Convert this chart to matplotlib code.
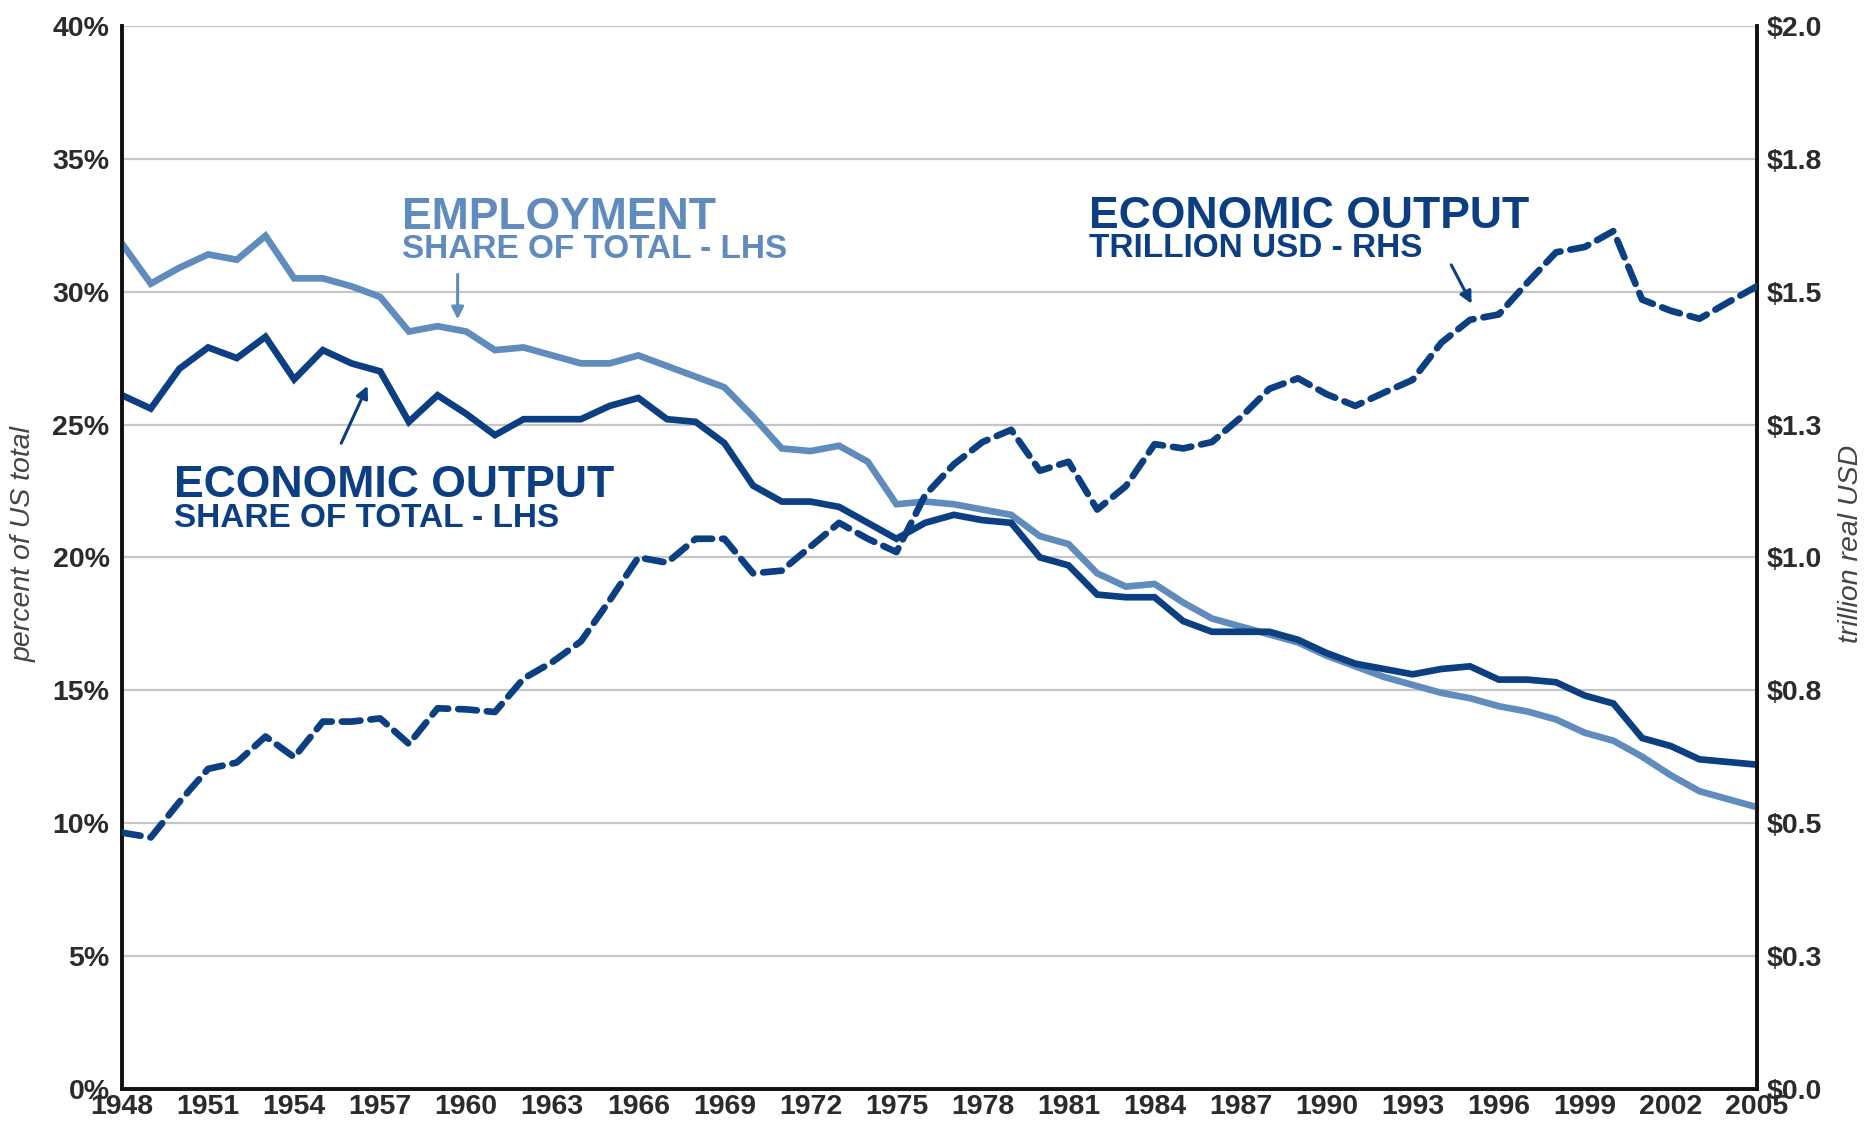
import numpy as np
import matplotlib
matplotlib.use("Agg")
import matplotlib.pyplot as plt

plt.rcParams['font.family'] = ['Liberation Sans', 'DejaVu Sans']

# data
years = list(range(1948, 2006))

employment_share = [
    31.8, 30.3, 30.9, 31.4, 31.2, 32.1, 30.5, 30.5, 30.2, 29.8,
    28.5, 28.7, 28.5, 27.8, 27.9, 27.6, 27.3, 27.3, 27.6, 27.2,
    26.8, 26.4, 25.3, 24.1, 24.0, 24.2, 23.6, 22.0, 22.1, 22.0,
    21.8, 21.6, 20.8, 20.5, 19.4, 18.9, 19.0, 18.3, 17.7, 17.4,
    17.1, 16.8, 16.3, 15.9, 15.5, 15.2, 14.9, 14.7, 14.4, 14.2,
    13.9, 13.4, 13.1, 12.5, 11.8, 11.2, 10.9, 10.6,
]

output_share = [
    26.1, 25.6, 27.1, 27.9, 27.5, 28.3, 26.7, 27.8, 27.3, 27.0,
    25.1, 26.1, 25.4, 24.6, 25.2, 25.2, 25.2, 25.7, 26.0, 25.2,
    25.1, 24.3, 22.7, 22.1, 22.1, 21.9, 21.3, 20.7, 21.3, 21.6,
    21.4, 21.3, 20.0, 19.7, 18.6, 18.5, 18.5, 17.6, 17.2, 17.2,
    17.2, 16.9, 16.4, 16.0, 15.8, 15.6, 15.8, 15.9, 15.4, 15.4,
    15.3, 14.8, 14.5, 13.2, 12.9, 12.4, 12.3, 12.2,
]

output_usd = [
    0.482, 0.473, 0.540, 0.602, 0.614, 0.663, 0.624, 0.691, 0.691, 0.697,
    0.649, 0.716, 0.714, 0.709, 0.772, 0.803, 0.842, 0.919, 1.000, 0.990,
    1.035, 1.035, 0.970, 0.975, 1.020, 1.065, 1.035, 1.010, 1.117, 1.175,
    1.217, 1.240, 1.163, 1.180, 1.090, 1.134, 1.213, 1.205, 1.217, 1.263,
    1.317, 1.337, 1.307, 1.285, 1.310, 1.334, 1.404, 1.447, 1.457, 1.517,
    1.574, 1.584, 1.614, 1.485, 1.464, 1.449, 1.480, 1.510,
]

x_ticks = list(range(1948, 2006, 3))
left_ticks = [0, 5, 10, 15, 20, 25, 30, 35, 40]
left_labels = ['0%', '5%', '10%', '15%', '20%', '25%', '30%', '35%', '40%']
right_ticks = [0, 0.25, 0.5, 0.75, 1.0, 1.25, 1.5, 1.75, 2.0]
right_labels = ['$0.0', '$0.3', '$0.5', '$0.8', '$1.0', '$1.3', '$1.5', '$1.8', '$2.0']

dark = '#0c3f82'
light = '#5f8bbd'
tick_col = '#2b2b2b'

fig = plt.figure(figsize=(18.64, 11.26), dpi=100)
ax = fig.add_axes([0.0655, 0.033, 0.877, 0.944])
ax2 = ax.twinx()

ax.plot(years, employment_share, color=light, lw=4.8, solid_joinstyle='miter', zorder=3)
ax.plot(years, output_share, color=dark, lw=4.8, solid_joinstyle='miter', zorder=4)
ax2.plot(years, output_usd, color=dark, lw=4.8, linestyle=(0, (2.8, 1.5)),
         dash_capstyle='round', zorder=3)

ax.set_xlim(1948, 2005)
ax.set_ylim(0, 40)
ax2.set_ylim(0, 2.0)

ax.set_xticks(x_ticks)
ax.set_xticklabels([str(y) for y in x_ticks])
ax.set_yticks(left_ticks)
ax.set_yticklabels(left_labels)
ax2.set_yticks(right_ticks)
ax2.set_yticklabels(right_labels)

ax.grid(axis='y', color='#c6c6c6', lw=1.6)
ax.set_axisbelow(True)

for a in (ax, ax2):
    a.spines['top'].set_visible(False)
    for s in ('left', 'right', 'bottom'):
        a.spines[s].set_linewidth(2.6)
        a.spines[s].set_color('#111111')
    a.tick_params(length=0, labelsize=20.5, labelcolor=tick_col)
    for lab in a.get_xticklabels() + a.get_yticklabels():
        lab.set_fontweight('bold')

ax.tick_params(axis='y', pad=9)
ax.tick_params(axis='x', pad=4)
ax2.tick_params(axis='y', pad=7)

ax.set_ylabel('percent of US total', fontsize=20.5, style='italic', color='#444444')
ax2.set_ylabel('trillion real USD', fontsize=20.5, style='italic', color='#444444', rotation=90)
ax.yaxis.set_label_coords(-0.052, 0.513)
ax2.yaxis.set_label_coords(1.0495, 0.513)

# annotations
ax.text(1957.75, 32.35, 'EMPLOYMENT', color=light, fontsize=32, fontweight='bold', va='baseline')
ax.text(1957.75, 31.25, 'SHARE OF TOTAL - LHS', color=light, fontsize=24, fontweight='bold', va='baseline')
ax.annotate('', xy=(1959.7, 28.85), xytext=(1959.7, 30.75),
            arrowprops=dict(arrowstyle='-|>', color=light, lw=2.2, mutation_scale=18))

ax.text(1949.8, 22.27, 'ECONOMIC OUTPUT', color=dark, fontsize=32, fontweight='bold', va='baseline')
ax.text(1949.8, 21.15, 'SHARE OF TOTAL - LHS', color=dark, fontsize=24, fontweight='bold', va='baseline')
ax.annotate('', xy=(1956.6, 26.55), xytext=(1955.6, 24.2),
            arrowprops=dict(arrowstyle='-|>', color=dark, lw=2.2, mutation_scale=18))

ax.text(1981.7, 32.4, 'ECONOMIC OUTPUT', color=dark, fontsize=32, fontweight='bold', va='baseline')
ax.text(1981.7, 31.3, 'TRILLION USD - RHS', color=dark, fontsize=24, fontweight='bold', va='baseline')
ax.annotate('', xy=(1995.1, 29.45), xytext=(1994.3, 31.1),
            arrowprops=dict(arrowstyle='-|>', color=dark, lw=2.2, mutation_scale=18))

fig.savefig('out.png', dpi=100)
